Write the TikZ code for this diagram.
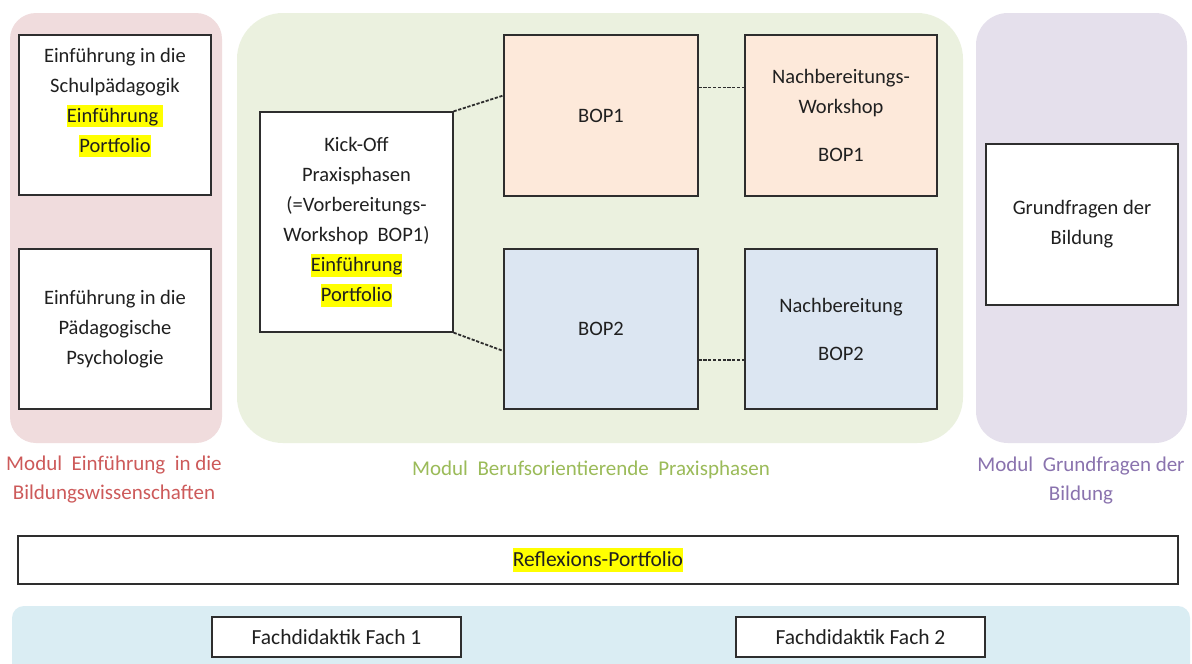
\documentclass[tikz,border=0pt]{standalone}
\usepackage{fontspec}
\setmainfont{Carlito}
\usetikzlibrary{calc}

\definecolor{boxline}{HTML}{2E2E2E}
\definecolor{txt}{HTML}{202020}
\definecolor{hly}{HTML}{FFFF00}
\definecolor{pinkpanel}{HTML}{F0DCDD}
\definecolor{greenpanel}{HTML}{EBF1DF}
\definecolor{purplepanel}{HTML}{E5E0EC}
\definecolor{bluepanel}{HTML}{DAEDF3}
\definecolor{peach}{HTML}{FDE9DA}
\definecolor{lightblue}{HTML}{DCE6F2}
\definecolor{pinklabel}{HTML}{CD5A5A}
\definecolor{greenlabel}{HTML}{9BBB59}
\definecolor{purplelabel}{HTML}{8A73AE}

% yellow marker behind a word
\newcommand\hlt[1]{{\setlength\fboxsep{0pt}\colorbox{hly}{\rule[-0.24em]{0pt}{1.08em}#1}}}

\tikzset{
  x=1pt, y=-1pt,
  card/.style={draw=boxline, line width=1.3pt, align=center, inner sep=0pt,
    text=txt, font=\fontsize{20.5}{30}\selectfont},
  cardA/.style={card, minimum width=192pt, minimum height=160pt},
  wide/.style={card, font=\fontsize{21.5}{24}\selectfont},
  modlabel/.style={align=center, font=\fontsize{21}{29}\selectfont},
  link/.style={draw=boxline, line width=1.8pt, dash pattern=on 3.2pt off 1.6pt}
}

\begin{document}
\begin{tikzpicture}
\useasboundingbox (0,0) rectangle (1192,664);
\fill[white] (0,0) rectangle (1192,664);

% module panels
\fill[pinkpanel, rounded corners=26pt] (10,13) rectangle (222,443);
\fill[greenpanel, rounded corners=46pt] (237,13) rectangle (963,443);
\fill[purplepanel, rounded corners=32pt] (976,13) rectangle (1187,443);
\fill[bluepanel, rounded corners=12pt] (12,606) rectangle (1190,700);

% Modul Einfuehrung in die Bildungswissenschaften
\node[cardA, fill=white] (schul) at (115,115)
  {Einführung in die\\Schulpädagogik\\\hlt{Einführung }\\\hlt{Portfolio}\\\mbox{}};
\node[cardA, fill=white] (psych) at (115,329)
  {Einführung in die\\Pädagogische\\Psychologie};

% Modul Berufsorientierende Praxisphasen
\node[card, fill=white, minimum width=193pt, minimum height=220pt] (kick) at (356.5,222)
  {Kick-Off\\Praxisphasen\\(=Vorbereitungs-\\Workshop\ \ BOP1)\\\hlt{Einführung}\\\hlt{Portfolio}};
\node[card, fill=peach, minimum width=194pt, minimum height=161pt] (bop1) at (601,115.5) {BOP1};
\node[card, fill=lightblue, minimum width=194pt, minimum height=160pt] (bop2) at (601,329) {BOP2};
\node[card, fill=peach, minimum width=192pt, minimum height=161pt] (nach1) at (841,115.5)
  {Nachbereitungs-\\Workshop\\[18pt]BOP1};
\node[card, fill=lightblue, minimum width=192pt, minimum height=160pt] (nach2) at (841,329)
  {Nachbereitung\\[18pt]BOP2};

% Modul Grundfragen der Bildung
\node[card, fill=white, minimum width=192pt, minimum height=161pt] (grund) at (1082,224.5)
  {Grundfragen der\\Bildung};

% dashed links
\draw[link] (kick.north east) -- ([yshift=20pt]bop1.west);
\draw[link] (kick.south east) -- ([yshift=-22pt]bop2.west);
\draw[link] ([yshift=28pt]bop1.east) -- ([yshift=28pt]nach1.west);
\draw[link] ([yshift=-31pt]bop2.east) -- ([yshift=-31pt]nach2.west);

% module captions
\node[modlabel, text=pinklabel] (labA) at (114,480) {Modul\ \ Einführung\ \ in die\\Bildungswissenschaften};
\node[modlabel, text=greenlabel] (labB) at (591,470) {Modul\ \ Berufsorientierende\ \ Praxisphasen};
\node[modlabel, text=purplelabel] (labC) at (1081,481) {Modul\ \ Grundfragen der\\Bildung};

% portfolio bar and subject didactics
\node[wide, fill=white, minimum width=1160pt, minimum height=48pt] (refl) at (598,560)
  {\hlt{Reflexions-Portfolio}};
\node[wide, fill=white, minimum width=249pt, minimum height=40pt] (fach1) at (336.5,637)
  {Fachdidaktik Fach 1};
\node[wide, fill=white, minimum width=249pt, minimum height=40pt] (fach2) at (860.5,637)
  {Fachdidaktik Fach 2};
\end{tikzpicture}
\end{document}
